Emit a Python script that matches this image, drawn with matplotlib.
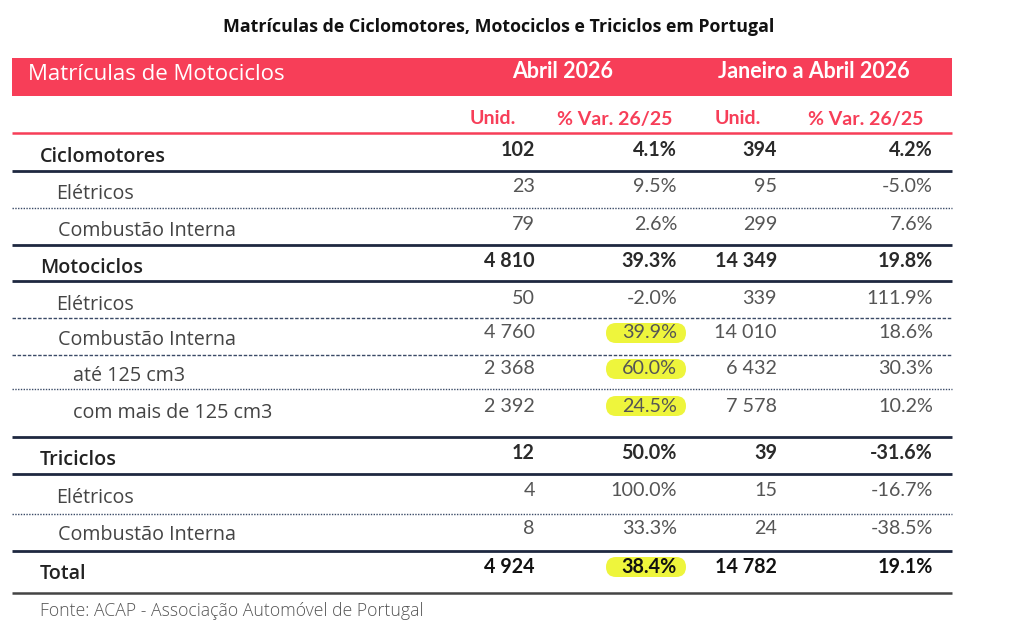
import matplotlib
matplotlib.use("Agg")
import matplotlib.pyplot as plt
from matplotlib.patches import Rectangle, FancyBboxPatch

# ---- data ----
title = "Matrículas de Ciclomotores, Motociclos e Triciclos em Portugal"
band_title = "Matrículas de Motociclos"
period_headers = ["Abril 2026", "Janeiro a Abril 2026"]
sub_headers = ["Unid.", "% Var. 26/25", "Unid.", "% Var. 26/25"]
row_labels = ["Ciclomotores", "Elétricos", "Combustão Interna", "Motociclos", "Elétricos",
              "Combustão Interna", "até 125 cm3", "com mais de 125 cm3", "Triciclos",
              "Elétricos", "Combustão Interna", "Total"]
row_levels = [0, 1, 1, 0, 1, 1, 2, 2, 0, 1, 1, 0]
abr_units = [102, 23, 79, 4810, 50, 4760, 2368, 2392, 12, 4, 8, 4924]
abr_var = [4.1, 9.5, 2.6, 39.3, -2.0, 39.9, 60.0, 24.5, 50.0, 100.0, 33.3, 38.4]
ytd_units = [394, 95, 299, 14349, 339, 14010, 6432, 7578, 39, 15, 24, 14782]
ytd_var = [4.2, -5.0, 7.6, 19.8, 111.9, 18.6, 30.3, 10.2, -31.6, -16.7, -38.5, 19.1]
highlight_abr_var = [False, False, False, False, False, True, True, True, False, False, False, True]
source = "Fonte: ACAP - Associação Automóvel de Portugal"

# ---- layout ----
W, H = 1024, 641
fig = plt.figure(figsize=(W / 100, H / 100), dpi=100)
ax = fig.add_axes([0, 0, 1, 1])
ax.set_xlim(0, W)
ax.set_ylim(H, 0)
ax.axis("off")

RED = "#F73E58"
NAVY = "#1E2840"
FONT = "Lato"
LFONT = "Open Sans"

def fmt_int(v):
    return f"{v:,}".replace(",", " ")

ax.text(499, 27, title, ha="center", va="center", fontsize=12.8, fontweight="bold",
        family=LFONT, color="#111111")

# red band
ax.add_patch(Rectangle((12, 58), 940, 38, facecolor=RED, edgecolor="none"))
ax.text(28, 75, band_title, ha="left", va="center", fontsize=16, color="white",
        family=LFONT, fontweight="medium")
ax.text(563, 72, period_headers[0], ha="center", va="center", fontsize=15.5,
        color="white", family=FONT, fontweight="bold")
ax.text(814, 72, period_headers[1], ha="center", va="center", fontsize=15.5,
        color="white", family=FONT, fontweight="bold")

sub_x = [493, 615, 738, 866]
for x, s in zip(sub_x, sub_headers):
    ax.text(x, 119, s, ha="center", va="center", fontsize=14, color=RED,
            family=FONT, fontweight="bold")
ax.plot([12, 952], [133, 133], color=RED, lw=1.8, solid_capstyle="butt")

# rows
num_y = [150, 187, 224, 261, 298, 333, 369, 406, 453, 491, 528, 567]
label_dx = {0: 40, 1: 56, 2: 73}
col_right = [535, 677, 777, 933]
for i, lab in enumerate(row_labels):
    lvl = row_levels[i]
    x = label_dx[lvl]
    if lab == "Combustão Interna":
        x = 58
    top = lvl == 0
    lcol = "#222222" if top else "#444444"
    ax.text(x, num_y[i] + 7, lab, ha="left", va="center", fontsize=14.2,
            color=lcol, family=LFONT, fontweight="semibold" if top else "normal")
    ncol = "#2a2a2a" if top else "#555555"
    if lab == "Total":
        ncol = "#111111"
    nw = "bold" if top else "normal"
    vals = [fmt_int(abr_units[i]), f"{abr_var[i]:.1f}%",
            fmt_int(ytd_units[i]), f"{ytd_var[i]:.1f}%"]
    if highlight_abr_var[i]:
        ax.add_patch(FancyBboxPatch((606, num_y[i] - 10), 80, 20,
                                    boxstyle="round,pad=0,rounding_size=10",
                                    facecolor="#EEF53C", edgecolor="none", zorder=1))
    for xr, v in zip(col_right, vals):
        ax.text(xr, num_y[i], v, ha="right", va="center", fontsize=14.2,
                color=ncol, family=FONT, fontweight=nw, zorder=3)

# separators
seps = [(171, "solid"), (208, "dotted"), (245, "solid"), (281, "solid"),
        (318, "dashed"), (355, "dashed"), (389, "dotted"), (437, "solid"),
        (474, "solid"), (514, "dotted"), (551, "solid"), (593, "bottom")]
for y, st in seps:
    if st == "solid":
        ax.plot([12, 952], [y, y], color=NAVY, lw=2.0, solid_capstyle="butt")
    elif st == "bottom":
        ax.plot([12, 952], [y, y], color="#444444", lw=1.8, solid_capstyle="butt")
    elif st == "dotted":
        ax.plot([12, 952], [y, y], color="#3A4A66", lw=1.0, linestyle=(0, (1, 1)))
    else:
        ax.plot([12, 952], [y, y], color="#3A4A66", lw=1.0, linestyle=(0, (2.5, 1.2)))

ax.text(40, 611, source, ha="left", va="center", fontsize=12.7, color="#555555",
        family=LFONT, fontweight="light")

fig.savefig("out.png", dpi=100)
